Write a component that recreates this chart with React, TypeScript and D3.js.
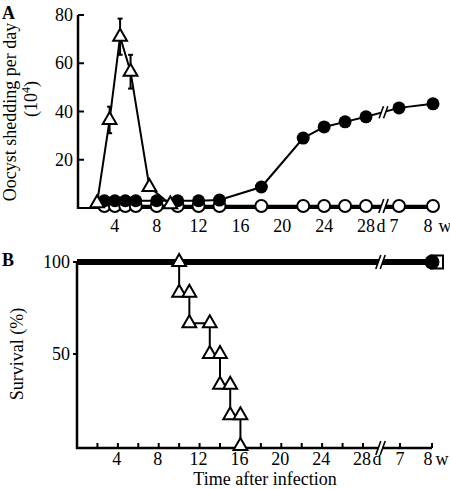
import React from "react";
import * as d3 from "d3";

// ---------- Data (x in days; 7 w = 49 d, 8 w = 56 d) ----------
const triDaysA = [2.3, 3.5, 4.5, 5.5, 7.3, 9.3];
const triValsA = [2, 36.5, 71, 56.5, 8.7, 1.5];
const triErrA = [0, 5.5, 7.5, 7, 0, 0];

const filledDaysA = [3, 4, 5, 6, 8, 10, 12, 14, 18, 22, 24, 26, 28, 49, 56];
const filledValsA = [3, 3, 3, 3, 3, 3, 3, 3.3, 8.7, 29, 33.6, 35.7, 37.8, 41.5, 43.2];

const openDaysA = [3, 4, 5, 6, 8, 10, 12, 14, 18, 22, 24, 26, 28, 49, 56];
const openValsA = [0.8, 0.8, 0.8, 0.8, 0.8, 0.8, 0.8, 0.8, 0.8, 0.8, 0.8, 0.8, 0.8, 0.8, 0.8];

const yTicksA = [20, 40, 60, 80];
const dayTickLabels = [4, 8, 12, 16, 20, 24, 28];
const dayMinorTicks = [2, 4, 6, 8, 10, 12, 14, 16, 18, 20, 22, 24, 26, 28, 49, 56];
const weekTickLabels = [
  { day: 49, label: "7" },
  { day: 56, label: "8" },
];

const survDays = [0, 10, 11, 13, 14, 15, 16];
const survVals = [100, 83.3, 66.7, 50, 33.3, 16.7, 0];
const survivorsEndDay = 56;
const survivorsVal = 100;
const yTicksB = [50, 100];

const FONT = "'Liberation Serif', 'Times New Roman', serif";

function Break({ cx, cy, h }: { cx: number; cy: number; h: number }) {
  const dx = h * 0.18;
  const g = 2.2;
  const pts = [
    [cx - g - dx, cy + h / 2],
    [cx - g + dx, cy - h / 2],
    [cx + g + dx, cy - h / 2],
    [cx + g - dx, cy + h / 2],
  ];
  return (
    <g>
      <polygon points={pts.map((p) => p.join(",")).join(" ")} fill="#fff" />
      <line x1={cx - g - dx} y1={cy + h / 2} x2={cx - g + dx} y2={cy - h / 2} stroke="#000" strokeWidth={1.6} />
      <line x1={cx + g - dx} y1={cy + h / 2} x2={cx + g + dx} y2={cy - h / 2} stroke="#000" strokeWidth={1.6} />
    </g>
  );
}

export default function App() {
  const W = 450;
  const H = 489;

  // Panel A scales
  const xA = d3.scaleLinear().domain([0, 28, 49, 56]).range([73, 366, 399, 433]);
  const yA = d3.scaleLinear().domain([0, 80]).range([208, 15]);
  // Panel B scales
  const xB = d3.scaleLinear().domain([0, 28, 49, 56]).range([77, 363, 400, 432]);
  const yB = d3.scaleLinear().domain([0, 100]).range([446, 262]);

  const tri = d3.symbol().type(d3.symbolTriangle).size(82)()!;

  const lineA = (days: number[], vals: number[]) =>
    d3.line<number>().x((_, i) => xA(days[i])).y((v) => yA(v))(vals) || "";

  const survPath =
    d3
      .line<number>()
      .x((_, i) => xB(survDays[i]))
      .y((v) => yB(v))
      .curve(d3.curveStepAfter)(survVals) || "";

  // survival markers: both corners of each step
  const survMarkers: [number, number][] = [];
  for (let i = 1; i < survDays.length; i++) {
    survMarkers.push([survDays[i], survVals[i - 1]]);
    survMarkers.push([survDays[i], survVals[i]]);
  }

  const breakXA = (xA(28) + xA(49)) / 2 + 1;
  const breakXB = (xB(28) + xB(49)) / 2 - 1;
  const fi28 = filledDaysA.indexOf(28);
  const filledBreakY = (yA(filledValsA[fi28]) + yA(filledValsA[fi28 + 1])) / 2;

  return (
    <svg width={W} height={H} style={{ position: "absolute", left: 0, top: 0, background: "#fff" }} fontFamily={FONT}>
      <rect width={W} height={H} fill="#fff" />

      {/* ================= Panel A ================= */}
      <text x={2} y={19} fontSize={18} fontWeight="bold">A</text>
      <text transform="translate(16,112) rotate(-90)" textAnchor="middle" fontSize={18}>
        Oocyst shedding per day
      </text>
      <text transform="translate(37,99) rotate(-90)" textAnchor="middle" fontSize={18}>
        (10<tspan dy={-7} fontSize={12}>4</tspan>
        <tspan dy={7}>)</tspan>
      </text>

      {/* axes */}
      <line x1={78} y1={yA(80)} x2={78} y2={yA(0) + 1} stroke="#000" strokeWidth={2.5} />
      <line x1={77} y1={yA(0)} x2={xA(56)} y2={yA(0)} stroke="#000" strokeWidth={2} />
      {yTicksA.map((t) => (
        <g key={t}>
          <line x1={78} x2={84} y1={yA(t)} y2={yA(t)} stroke="#000" strokeWidth={2} />
          <text x={73} y={yA(t) + 6} textAnchor="end" fontSize={18}>{t}</text>
        </g>
      ))}
      {dayTickLabels.map((t) => (
        <text key={t} x={xA(t)} y={232} textAnchor="middle" fontSize={18}>{t}</text>
      ))}
      <text x={381} y={232} textAnchor="middle" fontSize={18}>d</text>
      {weekTickLabels.map((w) => (
        <text key={w.label} x={xA(w.day) - 5} y={232} textAnchor="middle" fontSize={18}>{w.label}</text>
      ))}
      <text x={445} y={232} textAnchor="middle" fontSize={18}>w</text>

      {/* open circles series */}
      <path d={lineA(openDaysA, openValsA)} fill="none" stroke="#000" strokeWidth={2.5} />
      {openDaysA.map((d, i) => (
        <circle key={i} cx={xA(d)} cy={yA(openValsA[i])} r={6} fill="#fff" stroke="#000" strokeWidth={2} />
      ))}
      {/* filled circles series */}
      <path d={lineA(filledDaysA, filledValsA)} fill="none" stroke="#000" strokeWidth={2} />
      {filledDaysA.map((d, i) => (
        <circle key={i} cx={xA(d)} cy={yA(filledValsA[i])} r={6.5} fill="#000" />
      ))}
      {/* triangle series with error bars */}
      <path d={lineA(triDaysA, triValsA)} fill="none" stroke="#000" strokeWidth={2} />
      {triDaysA.map((d, i) =>
        triErrA[i] > 0 ? (
          <g key={"e" + i}>
            <line x1={xA(d)} x2={xA(d)} y1={yA(triValsA[i] + triErrA[i])} y2={yA(triValsA[i] - triErrA[i])} stroke="#000" strokeWidth={2} />
            <line x1={xA(d) - 2.5} x2={xA(d) + 2.5} y1={yA(triValsA[i] + triErrA[i])} y2={yA(triValsA[i] + triErrA[i])} stroke="#000" strokeWidth={2} />
            <line x1={xA(d) - 2.5} x2={xA(d) + 2.5} y1={yA(triValsA[i] - triErrA[i])} y2={yA(triValsA[i] - triErrA[i])} stroke="#000" strokeWidth={2} />
          </g>
        ) : null
      )}
      {triDaysA.map((d, i) => (
        <path key={i} d={tri} transform={`translate(${xA(d)},${yA(triValsA[i])})`} fill="#fff" stroke="#000" strokeWidth={2} />
      ))}
      <Break cx={breakXA} cy={filledBreakY} h={12} />
      <Break cx={breakXA} cy={yA(0) - 2} h={14} />

      {/* ================= Panel B ================= */}
      <text x={2} y={266} fontSize={18} fontWeight="bold">B</text>
      <text transform="translate(23,354) rotate(-90)" textAnchor="middle" fontSize={18}>
        Survival (%)
      </text>

      <line x1={77} y1={yB(100)} x2={77} y2={449} stroke="#000" strokeWidth={2.5} />
      <line x1={76} y1={448} x2={xB(56)} y2={448} stroke="#000" strokeWidth={2.5} />
      {yTicksB.map((t) => (
        <g key={t}>
          <line x1={73} x2={77} y1={yB(t)} y2={yB(t)} stroke="#000" strokeWidth={2} />
          <text x={70} y={yB(t) + 6} textAnchor="end" fontSize={18}>{t}</text>
        </g>
      ))}
      {dayMinorTicks.map((t) => (
        <line key={t} x1={xB(t)} x2={xB(t)} y1={448} y2={443} stroke="#000" strokeWidth={2} />
      ))}
      {dayTickLabels.map((t) => (
        <text key={t} x={xB(t) - 1} y={465} textAnchor="middle" fontSize={18}>{t}</text>
      ))}
      <text x={377} y={465} textAnchor="middle" fontSize={18}>d</text>
      {weekTickLabels.map((w) => (
        <text key={w.label} x={xB(w.day) - (w.day === 56 ? 4 : 0)} y={465} textAnchor="middle" fontSize={18}>{w.label}</text>
      ))}
      <text x={442} y={465} textAnchor="middle" fontSize={18}>w</text>
      <text x={265} y={485} textAnchor="middle" fontSize={18}>Time after infection</text>

      {/* survivors (thick line at 100%) */}
      <line x1={77} x2={xB(survivorsEndDay)} y1={yB(survivorsVal)} y2={yB(survivorsVal)} stroke="#000" strokeWidth={6} />
      <rect x={xB(survivorsEndDay) - 1} y={yB(survivorsVal) - 6.5} width={12} height={13} fill="#fff" stroke="#000" strokeWidth={2} />
      <circle cx={xB(survivorsEndDay)} cy={yB(survivorsVal)} r={7.5} fill="#000" />
      <Break cx={breakXB} cy={yB(100)} h={14} />
      <Break cx={breakXB} cy={448} h={14} />

      {/* triangle survival steps */}
      <path d={survPath} fill="none" stroke="#000" strokeWidth={2} />
      {survMarkers.map(([d, v], i) => (
        <path key={i} d={tri} transform={`translate(${xB(d)},${yB(v)})`} fill="#fff" stroke="#000" strokeWidth={2} />
      ))}
    </svg>
  );
}
